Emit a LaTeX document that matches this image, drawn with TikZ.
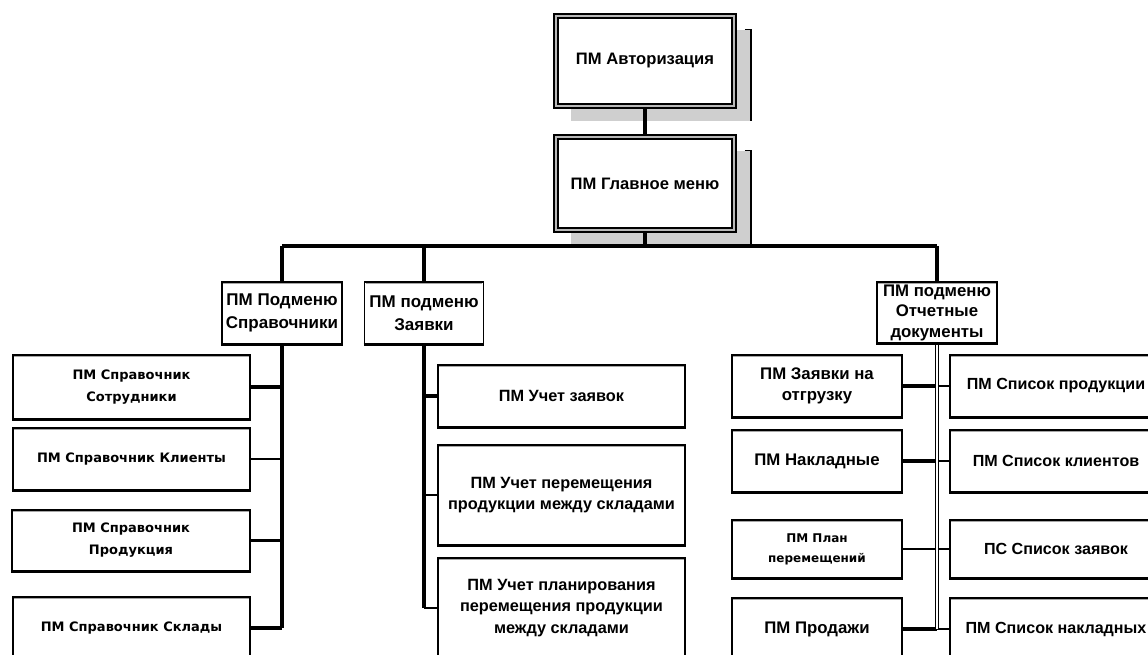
\documentclass[tikz,border=0pt]{standalone}
\usepackage{fontspec}
\setmainfont{Liberation Sans}
\newfontfamily\widefont{DejaVu Sans}
\usetikzlibrary{backgrounds}

\tikzset{
  sz/.style 2 args={minimum width=#1pt, minimum height=#2pt},
  pmbox/.style={draw=black, line width=1.8pt, fill=white, inner sep=0pt,
    align=center, font=\bfseries\fontsize{16.8}{21}\selectfont},
  topbox/.style={pmbox, line width=1.9pt, double=gray!55, double distance=1.6pt,
    font=\bfseries\fontsize{16.6}{21}\selectfont},
  subbox/.style={pmbox, font=\bfseries\fontsize{17}{23}\selectfont},
  midbox/.style={pmbox, font=\bfseries\fontsize{16.3}{21.5}\selectfont},
  listbox/.style={pmbox, font=\bfseries\fontsize{16.1}{21}\selectfont},
  minor/.style={pmbox, font=\widefont\bfseries\fontsize{13}{22}\selectfont},
  shadowfill/.style={fill=gray!38},
  link/.style={draw=black, line width=3.4pt},
  thinlink/.style={draw=black, line width=2.2pt},
  trunk/.style={draw=black, line width=3.6pt},
  dtrunk/.style={draw=black, line width=1.3pt, double=white, double distance=1.8pt}
}

\begin{document}
\begin{tikzpicture}[x=1pt, y=-1pt]
\useasboundingbox (0,0) rectangle (1148,655);
\clip (0,0) rectangle (1148,655);

% top level
\node[topbox, sz={178}{90}] (auth) at (645,61) {ПМ Авторизация};
\node[topbox, sz={178}{93}] (main) at (645,183.5) {ПМ Главное меню};

% submenus
\node[subbox, sz={120}{62}] (sprav) at (282,313) {ПМ Подменю\\Справочники};
\node[subbox, sz={119}{62}] (zayav) at (424,313) {ПМ подменю\\Заявки};
\node[subbox, sz={120}{61}, font=\bfseries\fontsize{16.8}{20.5}\selectfont] (otch) at (937,312.5) {ПМ подменю\\Отчетные\\документы};

% reference books
\node[minor, sz={237}{64}] (s1) at (131.5,387) {ПМ Справочник\\Сотрудники};
\node[minor, sz={237}{62}] (s2) at (131.5,459) {ПМ Справочник Клиенты};
\node[minor, sz={238}{61}] (s3) at (131,540.5) {ПМ Справочник\\Продукция};
\node[minor, sz={237}{62}] (s4) at (131.5,628) {ПМ Справочник Склады};

% requests
\node[midbox, sz={247}{62}] (m1) at (561.5,396) {ПМ Учет заявок};
\node[midbox, sz={247}{100}] (m2) at (561.5,495) {ПМ Учет перемещения\\продукции между складами};
\node[midbox, sz={247}{100}] (m3) at (561.5,608) {ПМ Учет планирования\\перемещения продукции\\между складами};

% reports, left column
\node[pmbox, sz={170}{62}] (d1) at (817,386) {ПМ Заявки на\\отгрузку};
\node[pmbox, sz={170}{62}] (d2) at (817,461) {ПМ Накладные};
\node[minor, sz={170}{58}, font=\widefont\bfseries\fontsize{12}{20}\selectfont] (d3) at (817,549) {ПМ План\\перемещений};
\node[pmbox, sz={170}{62}] (d4) at (817,629) {ПМ Продажи};

% reports, right column
\node[listbox, sz={212}{62}] (l1) at (1056,386) {ПМ Список продукции};
\node[listbox, sz={212}{62}] (l2) at (1056,461) {ПМ Список клиентов};
\node[listbox, sz={212}{58}] (l3) at (1056,549) {ПС Список заявок};
\node[listbox, sz={212}{62}] (l4) at (1056,629) {ПМ Список накладных};

% heavier lower edge and grey inner top edge of the plain boxes
\foreach \n in {sprav,zayav,otch,s1,s2,s3,s4,m1,m2,m3,d1,d2,d3,d4,l1,l2,l3,l4}{
  \draw[line width=3pt] (\n.south west) -- (\n.south east);
  \draw[gray!70, line width=0.9pt] ([xshift=2.2pt,yshift=-2.2pt]\n.north west) -- ([xshift=-2.2pt,yshift=-2.2pt]\n.north east);
}

\coordinate (busy) at (645,246);

\begin{scope}[on background layer]
  % drop shadows of the two top boxes
  \foreach \n in {auth,main}{
    \fill[shadowfill] ([shift={(16,14.5)}]\n.north west) rectangle ([shift={(16,14.5)}]\n.south east);
    \draw[line width=1.5pt] ([shift={(10,14.5)}]\n.north east) -- ([shift={(16,14.5)}]\n.north east) -- ([shift={(16,14.5)}]\n.south east);
  }
  % top connectors and bus
  \draw[link] (auth.south) -- (main.north);
  \draw[link] (main.south) -- (main.south |- busy);
  \draw[link] (sprav.north |- busy) -- (otch.north |- busy);
  \draw[link] (sprav.north |- busy) -- (sprav.north);
  \draw[link] (zayav.north |- busy) -- (zayav.north);
  \draw[link] (otch.north |- busy) -- (otch.north);

  % reference books branch
  \draw[trunk] (sprav.south) -- (sprav.south |- s4.east);
  \draw[link] (s1.east) -- (s1.east -| sprav.south);
  \draw[thinlink] (s2.east) -- (s2.east -| sprav.south);
  \draw[link] (s3.east) -- (s3.east -| sprav.south);
  \draw[link] (s4.east) -- (s4.east -| sprav.south);

  % requests branch
  \draw[trunk] (zayav.south) -- (zayav.south |- m3.west);
  \draw[link] (m1.west) -- (m1.west -| zayav.south);
  \draw[thinlink] (m2.west) -- (m2.west -| zayav.south);
  \draw[thinlink] (m3.west) -- (m3.west -| zayav.south);

  % reports branch
  \draw[link] (d1.east) -- (d1.east -| otch.south);
  \draw[link] (d2.east) -- (d2.east -| otch.south);
  \draw[thinlink] (d3.east) -- (d3.east -| otch.south);
  \draw[link] (d4.east) -- (d4.east -| otch.south);
  \draw[thinlink] (l1.west) -- (l1.west -| otch.south);
  \draw[thinlink] (l2.west) -- (l2.west -| otch.south);
  \draw[thinlink] (l3.west) -- (l3.west -| otch.south);
  \draw[thinlink] (l4.west) -- (l4.west -| otch.south);
  \draw[dtrunk] (otch.south) -- (otch.south |- d4.east);
\end{scope}
\end{tikzpicture}
\end{document}
